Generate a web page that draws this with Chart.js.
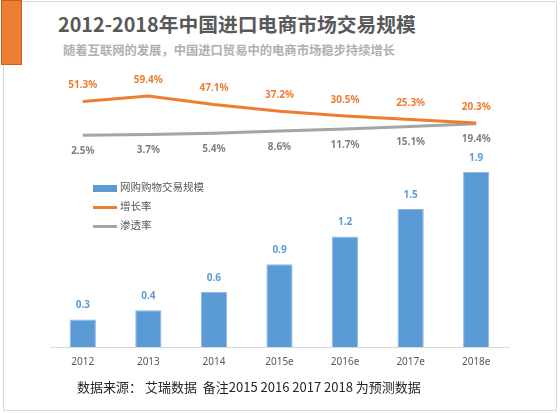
<!DOCTYPE html>
<html>
<head>
<meta charset="utf-8">
<script src="https://cdn.jsdelivr.net/npm/chart.js@4"></script>
<style>
  body { margin: 0; background: #fff; font-family: "Noto Sans CJK SC", sans-serif; }
  #wrap { position: relative; width: 560px; height: 413px; overflow: hidden; }
  #frame { position: absolute; left: 3px; top: 1px; width: 552px; height: 408px; border: 1px solid #d9d9d9; }
  #mark { position: absolute; left: 1px; top: 0; width: 21px; height: 65px; background: #ed7d31; border: 1px solid #c65f1c; box-sizing: border-box; }
  #title { position: absolute; left: 58px; top: 14px; font-size: 19.8px; line-height: 20px; font-weight: bold; color: #595959; white-space: nowrap; }
  #sub { position: absolute; left: 63px; top: 43px; font-size: 12.3px; line-height: 14px; font-weight: bold; color: #b0b0b0; white-space: nowrap; }
  #note { position: absolute; left: 77px; top: 380px; font-size: 13px; line-height: 14px; color: #262626; white-space: nowrap; }
  #legend { position: absolute; left: 93px; top: 179px; font-size: 10.5px; color: #595959; }
  #legend div { height: 19px; line-height: 16px; white-space: nowrap; }
  #legend span { display: inline-block; width: 24px; vertical-align: middle; margin-right: 3px; }
  canvas { position: absolute; left: 0; top: 0; }
</style>
</head>
<body>
<div id="wrap">
  <div id="frame"></div>
  <div id="mark"></div>
  <div id="title">2012-2018年中国进口电商市场交易规模</div>
  <div id="sub">随着互联网的发展，中国进口贸易中的电商市场稳步持续增长</div>
  <canvas id="chart" width="560" height="413"></canvas>
  <div id="legend"></div>
  <div id="note">数据来源： 艾瑞数据&nbsp; 备注2015 2016 2017 2018 为预测数据</div>
</div>
<script>
const years = ["2012", "2013", "2014", "2015e", "2016e", "2017e", "2018e"];
const tradeScale = [0.3, 0.4, 0.6, 0.9, 1.2, 1.5, 1.9];
const growthRate = [51.3, 59.4, 47.1, 37.2, 30.5, 25.3, 20.3];
const penetration = [2.5, 3.7, 5.4, 8.6, 11.7, 15.1, 19.4];

const blue = "#5b9bd5";
const orange = "#ed7d31";
const gray = "#a5a5a5";

// values written next to each mark
const valueLabels = {
  id: "valueLabels",
  afterDatasetsDraw(chart) {
    const ctx = chart.ctx;
    chart.data.datasets.forEach((ds, i) => {
      const meta = chart.getDatasetMeta(i);
      ctx.save();
      ctx.font = "bold 10px 'Noto Sans', sans-serif";
      ctx.fillStyle = ds.labelColor;
      ctx.textAlign = "center";
      ctx.textBaseline = "middle";
      meta.data.forEach((el, j) => {
        const txt = ds.type === "bar" ? ds.data[j].toFixed(1) : ds.data[j].toFixed(1) + "%";
        ctx.fillText(txt, el.x, el.y + ds.labelOffset);
      });
      ctx.restore();
    });
  }
};

const chart = new Chart(document.getElementById("chart").getContext("2d"), {
  data: {
    labels: years,
    datasets: [
      {
        type: "line",
        label: "增长率",
        data: growthRate,
        yAxisID: "y2",
        borderColor: orange,
        borderWidth: 3,
        pointRadius: 0,
        tension: 0,
        labelColor: orange,
        labelOffset: -16,
      },
      {
        type: "line",
        label: "渗透率",
        data: penetration,
        yAxisID: "y2",
        borderColor: gray,
        borderWidth: 3,
        pointRadius: 0,
        tension: 0,
        labelColor: "#7f7f7f",
        labelOffset: 16,
      },
      {
        type: "bar",
        label: "网购购物交易规模",
        data: tradeScale,
        yAxisID: "y",
        backgroundColor: blue,
        borderColor: "#8db8e2",
        borderWidth: 1,
        barPercentage: 0.4,
        categoryPercentage: 1,
        labelColor: "#5b9bd5",
        labelOffset: -14,
      },
    ],
  },
  options: {
    responsive: false,
    animation: false,
    layout: { padding: { left: 50, right: 51, top: 80, bottom: 26 } },
    plugins: {
      legend: { display: false },
      tooltip: { enabled: false },
    },
    scales: {
      x: {
        grid: { display: false, drawTicks: false },
        border: { color: "#d9d9d9", width: 1 },
        ticks: { color: "#595959", font: { size: 10, family: "'Noto Sans', sans-serif" }, padding: 9 },
        afterFit(scale) { scale.height = 40; },
      },
      y: { display: false, min: 0, max: 2.9 },
      y2: { display: false, min: -304, max: 82.6 },
    },
  },
  plugins: [valueLabels],
});

// legend built from the datasets, bar first
const legend = document.getElementById("legend");
[chart.data.datasets[2], chart.data.datasets[0], chart.data.datasets[1]].forEach((ds) => {
  const row = document.createElement("div");
  const key = document.createElement("span");
  if (ds.type === "bar") {
    key.style.height = "7px";
    key.style.background = ds.backgroundColor;
  } else {
    key.style.height = "3px";
    key.style.background = ds.borderColor;
  }
  row.appendChild(key);
  row.appendChild(document.createTextNode(ds.label));
  legend.appendChild(row);
});
</script>
</body>
</html>
